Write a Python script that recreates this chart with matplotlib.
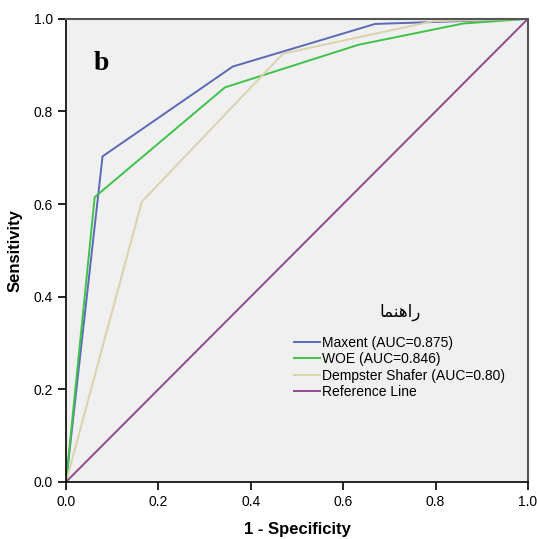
import matplotlib.pyplot as plt

# ROC curves
maxent_x = [0.0, 0.079, 0.361, 0.669, 1.0]
maxent_y = [0.0, 0.703, 0.897, 0.989, 1.0]
woe_x = [0.0, 0.062, 0.344, 0.633, 0.86, 1.0]
woe_y = [0.0, 0.615, 0.852, 0.944, 0.99, 1.0]
ds_x = [0.0, 0.164, 0.47, 0.795, 1.0]
ds_y = [0.0, 0.605, 0.925, 0.995, 1.0]
ref_x = [0.0, 1.0]
ref_y = [0.0, 1.0]

labels = ["Maxent (AUC=0.875)", "WOE (AUC=0.846)",
          "Dempster Shafer (AUC=0.80)", "Reference Line"]
# legend title "راهنما" pre-shaped (visual order) so it draws joined
title = "\uFE8E\uFEE4\uFEE8\uFEEB\uFE8D\uFEAD"

plt.rcParams['font.family'] = ['Liberation Sans', 'DejaVu Sans']

fig = plt.figure(figsize=(5.37, 5.39), dpi=100)
ax = fig.add_axes([0.123, 0.106, 0.86, 0.859])
ax.set_facecolor('#f0f0f0')

ax.plot(maxent_x, maxent_y, color='#5a6ab8', lw=1.4, label=labels[0])
ax.plot(woe_x, woe_y, color='#3fc24a', lw=1.4, label=labels[1])
ax.plot(ds_x, ds_y, color='#d9d3ad', lw=1.4, label=labels[2])
ax.plot(ref_x, ref_y, color='#8e4a8e', lw=1.4, label=labels[3])

ax.set_xlim(0, 1)
ax.set_ylim(0, 1)
ax.set_xticks([0, 0.2, 0.4, 0.6, 0.8, 1.0])
ax.set_yticks([0, 0.2, 0.4, 0.6, 0.8, 1.0])
ax.set_xticklabels(['0.0', '0.2', '0.4', '0.6', '0.8', '1.0'])
ax.set_yticklabels(['0.0', '0.2', '0.4', '0.6', '0.8', '1.0'])
ax.tick_params(direction='out', length=6, width=1.2, labelsize=10, colors='black')
for s in ['top', 'right']:
    ax.spines[s].set_color('#555555')
    ax.spines[s].set_linewidth(1.5)
for s in ['left', 'bottom']:
    ax.spines[s].set_linewidth(1.2)

ax.set_xlabel('1 - Specificity', fontsize=12, fontweight='bold', labelpad=9)
ax.set_ylabel('Sensitivity', fontsize=12, fontweight='bold', labelpad=8)

ax.text(0.06, 0.89, 'b', fontsize=20, fontweight='bold',
        family='Liberation Serif', transform=ax.transAxes)

leg = ax.legend(loc='upper left', bbox_to_anchor=(0.467, 0.415), frameon=False,
                fontsize=10, title=title, handlelength=1.85, handletextpad=0.15,
                labelspacing=0.18)
leg.get_title().set_family(['DejaVu Sans'])
leg.get_title().set_fontsize(12)
leg._legend_box.sep = 11

plt.savefig('out.png')
